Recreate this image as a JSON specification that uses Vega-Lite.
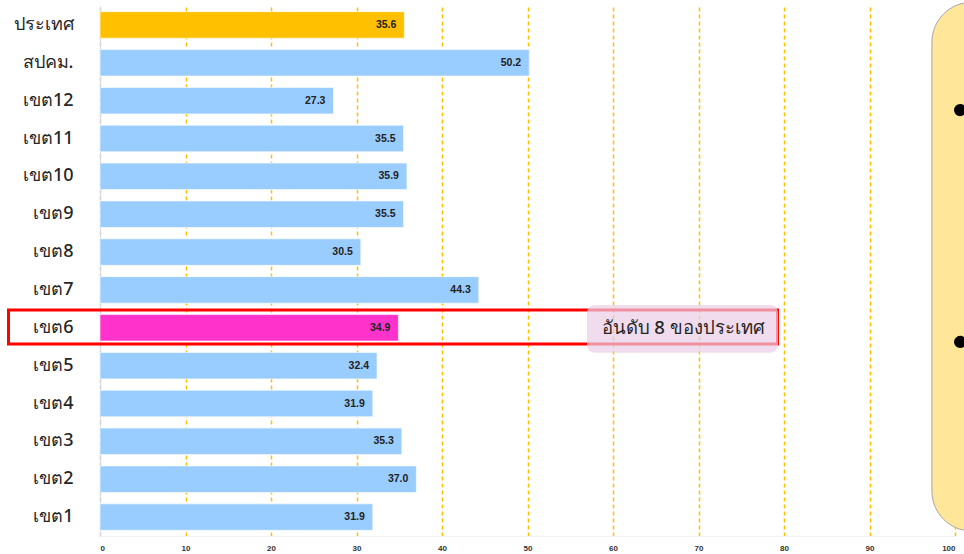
{
  "$schema": "https://vega.github.io/schema/vega-lite/v6.json",
  "width": 855,
  "height": 530,
  "autosize": {"type": "none"},
  "padding": {"left": 100, "top": 6, "right": 9, "bottom": 18},
  "background": "#ffffff",
  "config": {"view": {"stroke": null}},
  "resolve": {"scale": {"y": "independent"}, "axis": {"y": "independent"}},
  "layer": [
    {
      "data": {"values": [
        {"region": "ประเทศ", "value": 35.6, "grp": "country"},
        {"region": "สปคม.", "value": 50.2, "grp": "other"},
        {"region": "เขต12", "value": 27.3, "grp": "other"},
        {"region": "เขต11", "value": 35.5, "grp": "other"},
        {"region": "เขต10", "value": 35.9, "grp": "other"},
        {"region": "เขต9", "value": 35.5, "grp": "other"},
        {"region": "เขต8", "value": 30.5, "grp": "other"},
        {"region": "เขต7", "value": 44.3, "grp": "other"},
        {"region": "เขต6", "value": 34.9, "grp": "focus"},
        {"region": "เขต5", "value": 32.4, "grp": "other"},
        {"region": "เขต4", "value": 31.9, "grp": "other"},
        {"region": "เขต3", "value": 35.3, "grp": "other"},
        {"region": "เขต2", "value": 37.0, "grp": "other"},
        {"region": "เขต1", "value": 31.9, "grp": "other"}
      ]},
      "encoding": {
        "y": {
          "field": "region", "type": "nominal", "sort": null,
          "scale": {"paddingInner": 0.3, "paddingOuter": 0.15},
          "axis": {
            "title": null, "ticks": false, "labelPadding": 27,
            "labelFontSize": 18, "labelFontWeight": 500, "labelColor": "#262626",
            "labelFont": "Noto Sans", "domainColor": "#D9D9D9", "domainWidth": 1
          }
        },
        "x": {
          "field": "value", "type": "quantitative",
          "scale": {"domain": [0, 100], "nice": false},
          "axis": {
            "title": null, "values": [0, 10, 20, 30, 40, 50, 60, 70, 80, 90, 100],
            "ticks": false, "labelPadding": 8, "labelFontSize": 8,
            "labelFontWeight": "bold", "labelColor": "#333333",
            "labelFont": "Liberation Sans",
            "domainColor": "#F2F2F2",
            "grid": true, "gridColor": "#FFC000", "gridDash": [4, 3], "gridWidth": 1.5
          }
        }
      },
      "layer": [
        {
          "mark": {"type": "bar", "stroke": "#ffffff", "strokeWidth": 0.6},
          "encoding": {
            "color": {
              "field": "grp", "type": "nominal", "legend": null,
              "scale": {"domain": ["country", "other", "focus"], "range": ["#FFC000", "#99CCFF", "#FF33CC"]}
            }
          }
        },
        {
          "mark": {"type": "text", "align": "right", "baseline": "middle", "dx": -8,
                   "fontSize": 10.5, "fontWeight": "bold", "font": "Liberation Sans", "color": "#222222"},
          "encoding": {"text": {"field": "value", "type": "quantitative", "format": ".1f"}}
        }
      ]
    },
    {
      "data": {"values": [
        {"kind": "panel", "x1": 97.3, "x2": 112, "y1": -0.1, "y2": 13.87},
        {"kind": "red", "x1": -10.7, "x2": 79.24, "y1": 8.03, "y2": 8.93},
        {"kind": "box", "x1": 56.96, "x2": 79.3, "y1": 7.9, "y2": 9.16},
        {"kind": "dot", "x1": 100.6, "y1": 2.75},
        {"kind": "dot", "x1": 100.6, "y1": 8.875},
        {"kind": "label", "x1": 68.2, "y1": 8.5, "txt": "อันดับ 8 ของประเทศ"}
      ]},
      "encoding": {
        "x": {"field": "x1", "type": "quantitative", "scale": {"domain": [0, 100], "nice": false}},
        "y": {"field": "y1", "type": "quantitative", "scale": {"domain": [0, 14], "reverse": true, "nice": false, "zero": false}, "axis": null}
      },
      "layer": [
        {
          "transform": [{"filter": "datum.kind === 'panel'"}],
          "mark": {"type": "rect", "fill": "#FFE699", "stroke": "#A6A6A6", "strokeWidth": 1, "cornerRadius": 40},
          "encoding": {"x2": {"field": "x2"}, "y2": {"field": "y2"}}
        },
        {
          "transform": [{"filter": "datum.kind === 'red'"}],
          "mark": {"type": "rect", "fill": null, "fillOpacity": 0, "stroke": "#FF0000", "strokeWidth": 3},
          "encoding": {"x2": {"field": "x2"}, "y2": {"field": "y2"}}
        },
        {
          "transform": [{"filter": "datum.kind === 'box'"}],
          "mark": {"type": "rect", "fill": "#E9CDE4", "fillOpacity": 0.7, "cornerRadius": 8},
          "encoding": {"x2": {"field": "x2"}, "y2": {"field": "y2"}}
        },
        {
          "transform": [{"filter": "datum.kind === 'dot'"}],
          "mark": {"type": "point", "shape": "circle", "filled": true, "color": "#000000", "opacity": 1, "size": 150}
        },
        {
          "transform": [{"filter": "datum.kind === 'label'"}],
          "mark": {"type": "text", "align": "center", "baseline": "middle", "fontSize": 18.5, "fontWeight": 500, "font": "Noto Sans", "color": "#262626"},
          "encoding": {"text": {"field": "txt"}}
        }
      ]
    }
  ]
}
